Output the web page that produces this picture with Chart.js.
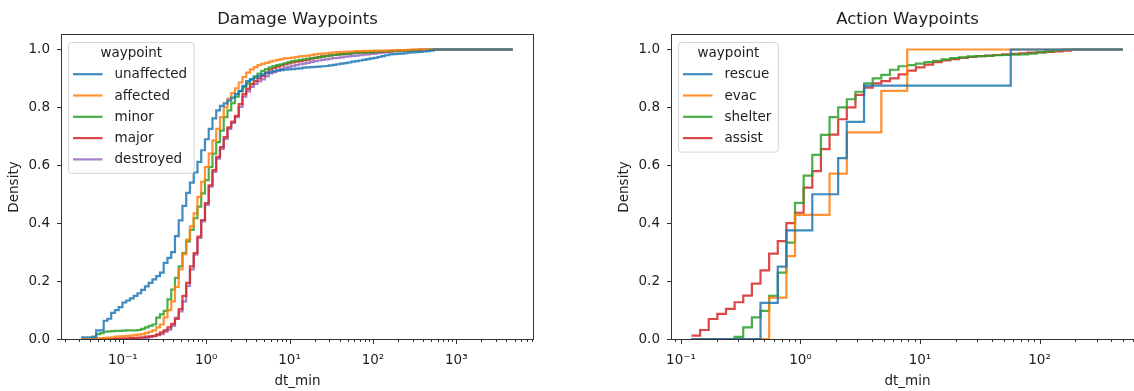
<!DOCTYPE html>
<html>
<head>
<meta charset="utf-8">
<script src="https://cdn.jsdelivr.net/npm/chart.js@4.4.1/dist/chart.umd.min.js"></script>
<style>
  html, body { margin: 0; padding: 0; background: #ffffff; width: 1134px; height: 391px; overflow: hidden; }
  .panel { position: absolute; top: 0; width: 567px; height: 391px; }
  #damagePanel { left: 0; }
  #actionPanel { left: 610px; }
</style>
</head>
<body>
<div class="panel" id="damagePanel"><canvas id="damageChart" width="567" height="391"></canvas></div>
<div class="panel" id="actionPanel"><canvas id="actionChart" width="567" height="391"></canvas></div>
<script>
// ---- categories and colours ----
const damageWaypoints = ['unaffected', 'affected', 'minor', 'major', 'destroyed'];
const actionWaypoints = ['rescue', 'evac', 'shelter', 'assist'];
const waypointColors = ['#1f77b4', '#ff7f0e', '#2ca02c', '#d62728', '#9467bd'];

// ---- histogram bins (equal width in log10 of dt_min) ----
const damageLogStart = -1.5;
const damageLogWidth = 0.045;
const actionLogStart = -0.912;
const actionLogWidth = 0.0722;

// ---- cumulative density per bin: damage waypoints ----
const unaffected = [
  0.006,0.006,0.006,0.006,0.03,0.03,0.063,0.07,0.09,0.1,
  0.11,0.126,0.133,0.14,0.149,0.158,0.17,0.182,0.194,0.206,
  0.217,0.229,0.263,0.28,0.3,0.355,0.41,0.46,0.505,0.54,
  0.575,0.612,0.652,0.69,0.726,0.762,0.79,0.805,0.814,0.823,
  0.834,0.846,0.857,0.874,0.891,0.897,0.903,0.909,0.914,0.918,
  0.922,0.925,0.928,0.929,0.93,0.931,0.932,0.934,0.935,0.937,
  0.938,0.939,0.94,0.941,0.942,0.943,0.945,0.947,0.949,0.951,
  0.953,0.955,0.958,0.96,0.962,0.964,0.967,0.969,0.971,0.974,
  0.977,0.98,0.983,0.984,0.985,0.986,0.987,0.989,0.99,0.991,
  0.992,0.993,0.994,0.997,1,1,1,1,1,1,
  1,1,1,1,1,1,1,1,1,1,
  1,1,1,1,1
];
const affected = [
  0,0,0,0.001,0.002,0.003,0.004,0.005,0.006,0.008,
  0.009,0.01,0.011,0.012,0.014,0.015,0.017,0.021,0.025,0.03,
  0.04,0.05,0.075,0.1,0.13,0.18,0.24,0.293,0.343,0.389,
  0.434,0.491,0.543,0.594,0.64,0.686,0.726,0.766,0.8,0.83,
  0.849,0.866,0.886,0.905,0.92,0.931,0.939,0.946,0.95,0.954,
  0.958,0.961,0.964,0.967,0.969,0.97,0.972,0.974,0.976,0.977,
  0.979,0.981,0.983,0.985,0.986,0.987,0.988,0.99,0.991,0.992,
  0.992,0.993,0.993,0.994,0.994,0.995,0.995,0.995,0.996,0.996,
  0.996,0.996,0.997,0.997,0.998,0.998,0.998,0.999,0.999,1,
  1,1,1,1,1,1,1,1,1,1,
  1,1,1,1,1,1,1,1,1,1,
  1,1,1,1,1
];
const minor = [
  0,0,0,0.008,0.017,0.02,0.025,0.026,0.027,0.028,
  0.028,0.029,0.03,0.03,0.03,0.031,0.035,0.04,0.045,0.05,
  0.074,0.085,0.097,0.137,0.171,0.211,0.251,0.297,0.337,0.377,
  0.417,0.457,0.503,0.549,0.594,0.64,0.68,0.72,0.766,0.79,
  0.815,0.837,0.855,0.869,0.883,0.897,0.907,0.917,0.926,0.932,
  0.938,0.943,0.946,0.949,0.952,0.956,0.96,0.962,0.964,0.966,
  0.968,0.97,0.971,0.973,0.975,0.977,0.979,0.981,0.983,0.984,
  0.985,0.986,0.987,0.988,0.989,0.99,0.99,0.991,0.992,0.993,
  0.993,0.994,0.994,0.995,0.995,0.996,0.996,0.997,0.998,0.998,
  0.999,0.999,1,1,1,1,1,1,1,1,
  1,1,1,1,1,1,1,1,1,1,
  1,1,1,1,1
];
const major = [
  0,0,0,0,0,0,0,0,0,0.001,
  0.001,0.002,0.002,0.003,0.004,0.005,0.006,0.008,0.009,0.011,
  0.016,0.023,0.03,0.04,0.052,0.069,0.103,0.149,0.194,0.251,
  0.297,0.354,0.411,0.469,0.531,0.583,0.629,0.663,0.697,0.731,
  0.751,0.771,0.811,0.846,0.864,0.88,0.891,0.9,0.909,0.92,
  0.931,0.936,0.941,0.945,0.949,0.952,0.955,0.958,0.96,0.962,
  0.965,0.968,0.971,0.974,0.976,0.978,0.98,0.981,0.982,0.984,
  0.985,0.986,0.988,0.989,0.99,0.99,0.991,0.991,0.992,0.992,
  0.993,0.993,0.994,0.995,0.996,0.997,0.998,0.998,0.999,0.999,
  1,1,1,1,1,1,1,1,1,1,
  1,1,1,1,1,1,1,1,1,1,
  1,1,1,1,1
];
const destroyed = [
  0,0,0,0,0,0,0,0,0,0,
  0,0,0,0.001,0.001,0.002,0.002,0.004,0.007,0.01,
  0.013,0.017,0.025,0.032,0.045,0.074,0.095,0.13,0.183,0.24,
  0.291,0.349,0.406,0.463,0.526,0.577,0.623,0.657,0.691,0.726,
  0.746,0.766,0.802,0.837,0.855,0.871,0.881,0.89,0.897,0.907,
  0.917,0.922,0.927,0.932,0.937,0.94,0.943,0.946,0.949,0.951,
  0.954,0.957,0.96,0.962,0.964,0.966,0.968,0.97,0.971,0.973,
  0.975,0.976,0.978,0.979,0.98,0.982,0.983,0.985,0.986,0.988,
  0.989,0.991,0.992,0.993,0.993,0.994,0.994,0.995,0.995,0.996,
  0.996,0.997,0.997,0.998,0.999,1,1,1,1,1,
  1,1,1,1,1,1,1,1,1,1,
  1,1,1,1,1
];

// ---- cumulative density per bin: action waypoints ----
const rescue = [
  0,0,0,0,0,0,0,0,0.125,0.125,
  0.25,0.375,0.375,0.375,0.5,0.5,0.5,0.625,0.75,0.75,
  0.875,0.875,0.875,0.875,0.875,0.875,0.875,0.875,0.875,0.875,
  0.875,0.875,0.875,0.875,0.875,0.875,0.875,1,1,1,
  1,1,1,1,1,1,1,1,1,1
];
const evac = [
  0,0,0,0,0,0,0,0,0,0.143,
  0.143,0.286,0.429,0.429,0.429,0.429,0.571,0.571,0.714,0.714,
  0.714,0.714,0.857,0.857,0.857,1,1,1,1,1,
  1,1,1,1,1,1,1,1,1,1,
  1,1,1,1,1,1,1,1,1,1
];
const shelter = [
  0,0,0,0,0,0.007,0.04,0.075,0.097,0.149,
  0.229,0.333,0.47,0.564,0.636,0.705,0.766,0.8,0.828,0.854,
  0.883,0.9,0.912,0.93,0.942,0.946,0.951,0.956,0.961,0.966,
  0.97,0.973,0.976,0.977,0.978,0.98,0.981,0.982,0.983,0.986,
  0.99,0.994,0.997,1,1,1,1,1,1,1
];
const assist = [
  0.012,0.031,0.069,0.087,0.104,0.127,0.15,0.191,0.237,0.295,
  0.338,0.4,0.436,0.523,0.58,0.656,0.706,0.759,0.8,0.843,
  0.868,0.883,0.891,0.9,0.914,0.927,0.938,0.948,0.956,0.962,
  0.967,0.971,0.974,0.977,0.979,0.981,0.983,0.985,0.987,0.989,
  0.99,0.992,0.993,0.996,1,1,1,1,1,1
];

// ---- axis ticks ----
const decadeValues = [0.1, 1, 10, 100, 1000];
const decadeLabels = ['10\u207B\u00B9', '10\u2070', '10\u00B9', '10\u00B2', '10\u00B3'];
const densityTicks = [0, 0.2, 0.4, 0.6, 0.8, 1.0];
const densityLabels = ['0.0', '0.2', '0.4', '0.6', '0.8', '1.0'];

const FONT = '"DejaVu Sans", sans-serif';
const INK = '#1e1e1e';
const TEXT_SIZE = 13.5;

function binEdges(logStart, logWidth, binCount) {
  const edges = [];
  for (let k = 0; k <= binCount; k++) edges.push(Math.pow(10, logStart + k * logWidth));
  return edges;
}

// step outline: each bin's value is held from its left edge to the next edge
function stepPoints(edges, values) {
  const pts = values.map((v, i) => ({ x: edges[i], y: v }));
  pts.push({ x: edges[values.length], y: values[values.length - 1] });
  return pts;
}

function withAlpha(hex, a) {
  const n = parseInt(hex.slice(1), 16);
  return `rgba(${(n >> 16) & 255},${(n >> 8) & 255},${n & 255},${a})`;
}

// axes box plus major/minor tick marks
const axisFrame = {
  id: 'axisFrame',
  beforeDatasetsDraw(chart) {
    const { ctx, chartArea: a, scales } = chart;
    const x = scales.x, y = scales.y;
    ctx.save();
    ctx.strokeStyle = '#333333';
    ctx.lineWidth = 1;
    ctx.strokeRect(a.left - 0.5, a.top - 0.5, a.right - a.left + 1, a.bottom - a.top + 1);
    ctx.beginPath();
    const lo = Math.floor(Math.log10(x.min)), hi = Math.ceil(Math.log10(x.max));
    for (let d = lo; d <= hi; d++) {
      for (let m = 1; m <= 9; m++) {
        const v = m * Math.pow(10, d);
        if (v < x.min || v > x.max) continue;
        const px = Math.round(x.getPixelForValue(v)) + 0.5;
        ctx.moveTo(px, a.bottom + 0.5);
        ctx.lineTo(px, a.bottom + (m === 1 ? 5 : 3));
      }
    }
    densityTicks.forEach(t => {
      const py = Math.round(y.getPixelForValue(t)) + 0.5;
      ctx.moveTo(a.left - 0.5, py);
      ctx.lineTo(a.left - 5, py);
    });
    ctx.stroke();
    ctx.restore();
  }
};

// framed legend with a title, in the upper left of the plot area
const waypointLegend = {
  id: 'waypointLegend',
  afterDraw(chart) {
    const { ctx, chartArea: a } = chart;
    const items = chart.data.datasets;
    ctx.save();
    ctx.font = `${TEXT_SIZE}px ${FONT}`;
    let textW = 0;
    items.forEach(d => { textW = Math.max(textW, ctx.measureText(d.label).width); });
    const x0 = a.left + 6.5, y0 = a.top + 7.5;
    const textX = a.left + 52.5;
    const rowH = 21.3;
    const firstRow = a.top + 39.2;
    const w = textX + textW + 7 - x0;
    const h = firstRow + rowH * (items.length - 1) + 14 - y0;
    const r = 3;
    ctx.beginPath();
    ctx.moveTo(x0 + r, y0);
    ctx.arcTo(x0 + w, y0, x0 + w, y0 + h, r);
    ctx.arcTo(x0 + w, y0 + h, x0, y0 + h, r);
    ctx.arcTo(x0, y0 + h, x0, y0, r);
    ctx.arcTo(x0, y0, x0 + w, y0, r);
    ctx.closePath();
    ctx.fillStyle = 'rgba(255,255,255,0.8)';
    ctx.fill();
    ctx.strokeStyle = 'rgba(204,204,204,0.8)';
    ctx.lineWidth = 1;
    ctx.stroke();

    ctx.fillStyle = INK;
    ctx.textBaseline = 'middle';
    ctx.textAlign = 'center';
    ctx.fillText('waypoint', x0 + w / 2, a.top + 18.6);
    ctx.textAlign = 'left';
    items.forEach((d, i) => {
      const yy = firstRow + rowH * i;
      ctx.strokeStyle = d.borderColor;
      ctx.lineWidth = 2.2;
      ctx.beginPath();
      ctx.moveTo(a.left + 11, yy);
      ctx.lineTo(a.left + 40.5, yy);
      ctx.stroke();
      ctx.fillStyle = INK;
      ctx.fillText(d.label, textX, yy + 0.5);
    });
    ctx.restore();
  }
};

function drawPanel(canvasId, title, names, series, edges, xMin, xMax) {
  return new Chart(document.getElementById(canvasId), {
    type: 'line',
    data: {
      datasets: names.map((name, i) => ({
        label: name,
        data: stepPoints(edges, series[i]),
        borderColor: withAlpha(waypointColors[i], 0.85),
        borderWidth: 2.2,
        stepped: 'before',
        pointRadius: 0,
        fill: false
      }))
    },
    options: {
      responsive: false,
      animation: false,
      devicePixelRatio: 1,
      events: [],
      layout: { padding: { left: 0, right: 34, top: 0, bottom: 0 } },
      plugins: {
        legend: { display: false },
        tooltip: { enabled: false },
        title: {
          display: true,
          text: title,
          fullSize: false,
          color: INK,
          font: { family: FONT, size: 16.5, weight: 'normal', lineHeight: 1.2 },
          padding: { top: 10, bottom: 5.2 }
        }
      },
      scales: {
        x: {
          type: 'logarithmic',
          min: xMin,
          max: xMax,
          afterBuildTicks: s => {
            s.ticks = decadeValues.filter(v => v >= xMin && v <= xMax).map(v => ({ value: v }));
          },
          afterFit: s => { s.height = 52; },
          grid: { display: false, drawTicks: false },
          border: { display: false },
          ticks: {
            autoSkip: false,
            maxRotation: 0,
            padding: 13.5,
            color: INK,
            font: { family: FONT, size: TEXT_SIZE },
            callback: v => decadeLabels[decadeValues.findIndex(d => Math.abs(d - v) < d * 1e-6)]
          },
          title: {
            display: true,
            text: 'dt_min',
            color: INK,
            font: { family: FONT, size: TEXT_SIZE },
            padding: { top: 0, bottom: 1 }
          }
        },
        y: {
          min: 0,
          max: 1.05,
          afterBuildTicks: s => { s.ticks = densityTicks.map(v => ({ value: v })); },
          afterFit: s => { s.width = 62; },
          grid: { display: false, drawTicks: false },
          border: { display: false },
          ticks: {
            padding: 12,
            color: INK,
            font: { family: FONT, size: TEXT_SIZE },
            callback: v => densityLabels[densityTicks.findIndex(t => Math.abs(t - v) < 1e-9)]
          },
          title: {
            display: true,
            text: 'Density',
            color: INK,
            font: { family: FONT, size: TEXT_SIZE },
            padding: { top: 6.5, bottom: 0 }
          }
        }
      }
    },
    plugins: [axisFrame, waypointLegend]
  });
}

drawPanel('damageChart', 'Damage Waypoints', damageWaypoints,
  [unaffected, affected, minor, major, destroyed],
  binEdges(damageLogStart, damageLogWidth, unaffected.length),
  Math.pow(10, -1.73), Math.pow(10, 3.92));

drawPanel('actionChart', 'Action Waypoints', actionWaypoints,
  [rescue, evac, shelter, assist],
  binEdges(actionLogStart, actionLogWidth, rescue.length),
  Math.pow(10, -1.075), Math.pow(10, 2.866));
</script>
</body>
</html>
